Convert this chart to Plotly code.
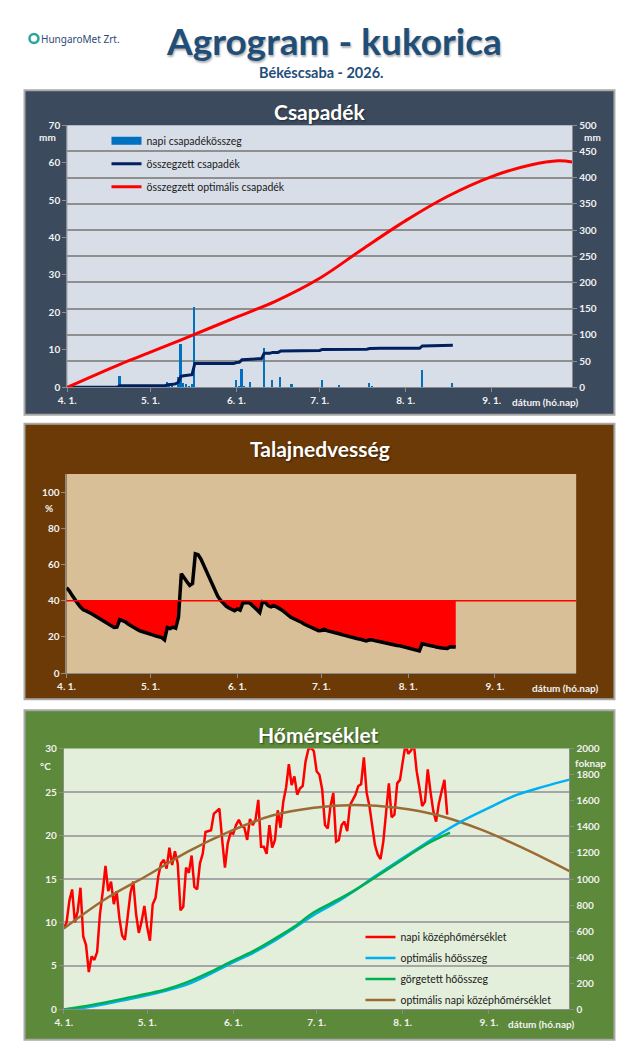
import numpy as np
import pandas as pd
import plotly.graph_objects as go

W, H = 640, 1059
# the photographed page comes out slightly shrunk and shifted; positions below are taken
# from the reference picture and mapped back into figure pixels
SHRINK, SHIFT_X, SHIFT_Y = 0.986, 16.5, 15
FONT = "Lato"
SEASON_START = "2026-04-01"
SEASON_END = "2026-09-30"

MONTH_TICKS = ["2026-04-01", "2026-05-01", "2026-06-01", "2026-07-01", "2026-08-01", "2026-09-01"]
MONTH_LABELS = ["4. 1.", "5. 1.", "6. 1.", "7. 1.", "8. 1.", "9. 1."]

# --- csapadék (mm) ---
RAIN_DATES = ["2026-04-20", "2026-05-07", "2026-05-08", "2026-05-09", "2026-05-11", "2026-05-12",
              "2026-05-13", "2026-05-14", "2026-05-15", "2026-05-16", "2026-05-17", "2026-06-01",
              "2026-06-02", "2026-06-03", "2026-06-04", "2026-06-06", "2026-06-11", "2026-06-14",
              "2026-06-17", "2026-06-21", "2026-07-02", "2026-07-08", "2026-07-19", "2026-07-20",
              "2026-08-07", "2026-08-18"]
RAIN_MM = [2.9, 1.5, 1.2, 1.0, 2.7, 11.6,
           1.2, 0.8, 0.4, 0.8, 21.5, 1.8,
           0.4, 4.8, 0.4, 1.4, 10.4, 1.9,
           2.7, 0.9, 2.0, 0.6, 1.1, 0.4,
           4.6, 1.2]
RAIN_LAST_DAY = "2026-08-18"

OPT_RAIN_DATES = ["2026-04-01", "2026-04-20", "2026-05-01", "2026-05-16", "2026-06-01", "2026-06-15",
                  "2026-07-01", "2026-07-16", "2026-08-01", "2026-08-16", "2026-09-01", "2026-09-15",
                  "2026-09-25", "2026-09-30"]
OPT_RAIN_SUM = [0, 44, 67, 99, 134, 164, 208, 262, 318, 364, 402, 424, 432, 430]

# --- talajnedvesség (%), napi értékek ápr. 1-től ---
SOIL_MOISTURE = [
    47.2, 45.5, 43.0, 40.5, 38.5, 36.5, 35.0, 34.4, 33.8, 32.8,
    31.8, 30.9, 30.0, 29.0, 28.1, 27.1, 26.0, 25.2, 25.4, 29.5,
    29.0, 28.4, 27.2, 26.2, 25.2, 24.2, 23.5, 23.0, 22.6, 22.0,
    21.5, 21.0, 20.5, 20.0, 19.6, 18.4, 25.2, 24.6, 25.4, 24.8,
    31.0, 55.0, 52.5, 50.5, 48.5, 49.5, 66.0, 65.5, 63.0, 59.5,
    56.0, 52.5, 49.0, 45.5, 42.5, 40.3, 38.5, 37.0, 36.0, 35.0,
    34.5, 35.5, 34.8, 38.8, 39.0, 39.0, 38.0, 36.8, 35.0, 33.5,
    39.5, 39.0, 37.3, 36.6, 37.3, 36.6, 35.8, 34.8, 33.5, 32.0,
    31.0, 30.2, 29.5, 29.0, 28.0, 27.0, 26.2, 25.5, 24.8, 24.0,
    23.5, 23.6, 24.3, 23.5, 23.2, 22.7, 22.2, 21.8, 21.5, 21.0,
    20.5, 20.0, 19.6, 19.2, 19.0, 18.7, 18.2, 17.8, 18.3, 18.4,
    18.0, 17.6, 17.4, 17.2, 16.8, 16.3, 16.0, 15.6, 15.3, 15.1,
    14.7, 14.3, 13.9, 13.4, 12.9, 12.5, 12.3, 16.2, 16.0, 15.6,
    15.2, 14.9, 14.4, 14.0, 13.9, 13.8, 13.6, 14.6, 14.7, 14.5,
]
SOIL_OPTIMUM = 40

# --- hőmérséklet (°C), napi értékek ápr. 1-től ---
TEMP_MEAN = [
    9.3, 10.0, 12.5, 13.8, 10.0, 11.3, 14.0, 8.4, 7.4, 4.3,
    6.1, 5.7, 6.6, 10.9, 13.5, 16.5, 13.6, 14.7, 12.1, 13.6,
    10.5, 8.5, 8.0, 10.5, 13.4, 14.7, 11.0, 8.8, 10.1, 11.9,
    9.5, 7.9, 12.1, 12.8, 15.3, 16.8, 17.2, 16.2, 18.6, 16.6,
    18.2, 16.8, 11.4, 11.8, 16.3, 15.7, 17.7, 14.1, 13.8, 16.8,
    17.9, 20.4, 20.5, 20.6, 22.5, 22.8, 23.1, 19.5, 16.3, 19.1,
    20.3, 20.2, 21.2, 21.8, 21.1, 20.9, 19.5, 21.9, 21.2, 21.8,
    24.1, 18.7, 18.7, 17.9, 21.2, 18.6, 19.5, 22.9, 20.9, 23.9,
    25.5, 28.2, 25.8, 26.8, 24.7, 25.4, 25.7, 28.5, 29.9, 30.1,
    29.7, 27.4, 27.0, 25.3, 21.2, 20.8, 23.4, 24.9, 19.3, 19.5,
    21.2, 21.6, 20.5, 23.5, 24.2, 24.7, 25.7, 25.9, 29.0, 24.9,
    23.4, 21.4, 18.9, 17.8, 17.3, 19.3, 23.0, 26.0, 22.1, 22.4,
    26.0, 26.4, 28.5, 30.5, 29.4, 29.8, 30.5, 27.4, 25.5, 23.4,
    23.9, 27.6, 25.0, 22.8, 21.6, 23.7, 25.1, 26.4, 22.4,
]

OPT_TEMP_DATES = ["2026-04-01", "2026-04-16", "2026-05-01", "2026-05-16", "2026-05-31", "2026-06-15",
                  "2026-06-30", "2026-07-15", "2026-07-30", "2026-08-14", "2026-08-29", "2026-09-13",
                  "2026-09-30"]
OPT_TEMP = [9.3, 12.7, 15.4, 18.2, 20.5, 22.3, 23.2, 23.5, 23.2, 22.3, 20.7, 18.6, 15.9]

OPT_HEAT_DATES = ["2026-04-01", "2026-04-08", "2026-04-15", "2026-04-23", "2026-05-01", "2026-05-08",
                  "2026-05-15", "2026-05-23", "2026-05-31", "2026-06-08", "2026-06-15", "2026-06-23",
                  "2026-06-30", "2026-07-09", "2026-07-14", "2026-07-22", "2026-08-01", "2026-08-09",
                  "2026-08-16", "2026-08-22", "2026-09-01", "2026-09-11", "2026-09-21", "2026-09-30"]
OPT_HEAT = [0, 12, 38, 72, 108, 145, 188, 265, 352, 432, 515, 625,
            725, 832, 900, 1020, 1160, 1270, 1365, 1440, 1545, 1645, 1710, 1762]

HEAT_DATES = ["2026-04-01", "2026-04-08", "2026-04-15", "2026-04-23", "2026-05-01", "2026-05-08",
              "2026-05-15", "2026-05-23", "2026-05-31", "2026-06-08", "2026-06-15", "2026-06-23",
              "2026-06-30", "2026-07-09", "2026-07-14", "2026-07-22", "2026-08-01", "2026-08-09",
              "2026-08-18"]
HEAT_SUM = [0, 22, 50, 85, 120, 155, 205, 280, 365, 445, 530, 635,
            745, 845, 905, 1012, 1150, 1260, 1355]


def px(x):
    return (x - SHIFT_X) / SHRINK / W


def py(y):
    return 1 - (y - SHIFT_Y) / SHRINK / H


# daily precipitation series and its running total
rain_days = pd.date_range(SEASON_START, RAIN_LAST_DAY, freq="D")
rain_daily = pd.Series(0.0, index=rain_days)
rain_daily[pd.to_datetime(RAIN_DATES)] = RAIN_MM
rain_cum = rain_daily.cumsum()

soil_dates = pd.date_range(SEASON_START, periods=len(SOIL_MOISTURE), freq="D")
soil = np.array(SOIL_MOISTURE)
temp_dates = pd.date_range(SEASON_START, periods=len(TEMP_MEAN), freq="D")

tick_font = dict(family=FONT, size=10, color="#F2F2F2", weight="bold")
axis_base = dict(showline=True, linecolor="#8C8C8C", linewidth=1, ticks="outside", ticklen=4,
                 tickcolor="#8C8C8C", tickfont=tick_font, showgrid=False, zeroline=False,
                 fixedrange=True)
x_base = dict(axis_base, type="date", range=[SEASON_START, SEASON_END],
              tickvals=MONTH_TICKS, ticktext=MONTH_LABELS)

fig = go.Figure()

# ---------- Csapadék ----------
fig.add_trace(go.Bar(x=pd.to_datetime(RAIN_DATES), y=RAIN_MM, name="napi csapadékösszeg",
                     marker=dict(color="#0070C0", line_width=0), width=0.6 * 86400000,
                     xaxis="x", yaxis="y", showlegend=False, legendgroup="a"))
# legend key drawn as a wide flat block, like the original
fig.add_trace(go.Scatter(x=[None], y=[None], name="napi csapadékösszeg", mode="lines",
                         line=dict(color="#0070C0", width=8), xaxis="x", yaxis="y",
                         legend="legend", legendgroup="a"))
fig.add_trace(go.Scatter(x=rain_cum.index, y=rain_cum.values, name="összegzett csapadék",
                         mode="lines", line=dict(color="#002060", width=3),
                         xaxis="x", yaxis="y2", legend="legend", legendgroup="b"))
fig.add_trace(go.Scatter(x=OPT_RAIN_DATES, y=OPT_RAIN_SUM, name="összegzett optimális csapadék",
                         mode="lines", line=dict(color="#FF0000", width=3, shape="spline"),
                         xaxis="x", yaxis="y2", legend="legend", legendgroup="c"))

# ---------- Talajnedvesség ----------
fig.add_trace(go.Scatter(x=soil_dates, y=np.full(len(soil), SOIL_OPTIMUM), mode="lines",
                         line=dict(width=0, color="#FF0000"), showlegend=False, hoverinfo="skip",
                         xaxis="x2", yaxis="y3"))
fig.add_trace(go.Scatter(x=soil_dates, y=np.minimum(soil, SOIL_OPTIMUM), mode="lines",
                         line=dict(width=0, color="#FF0000"), fill="tonexty", fillcolor="#FF0000",
                         showlegend=False, hoverinfo="skip", xaxis="x2", yaxis="y3"))
fig.add_trace(go.Scatter(x=soil_dates, y=soil, mode="lines", name="talajnedvesség",
                         line=dict(color="#000000", width=3.5), showlegend=False,
                         xaxis="x2", yaxis="y3"))

# ---------- Hőmérséklet ----------
fig.add_trace(go.Scatter(x=OPT_HEAT_DATES, y=OPT_HEAT, name="optimális hőösszeg", mode="lines",
                         line=dict(color="#00B0F0", width=2.5, shape="spline"),
                         xaxis="x3", yaxis="y5", legend="legend2", legendgroup="e", legendrank=2))
fig.add_trace(go.Scatter(x=HEAT_DATES, y=HEAT_SUM, name="görgetett hőösszeg", mode="lines",
                         line=dict(color="#00B050", width=2.5, shape="spline"),
                         xaxis="x3", yaxis="y5", legend="legend2", legendgroup="f", legendrank=3))
fig.add_trace(go.Scatter(x=temp_dates, y=TEMP_MEAN, name="napi középhőmérséklet", mode="lines",
                         line=dict(color="#FF0000", width=2.5),
                         xaxis="x3", yaxis="y4", legend="legend2", legendgroup="d", legendrank=1))
fig.add_trace(go.Scatter(x=OPT_TEMP_DATES, y=OPT_TEMP, name="optimális napi középhőmérséklet",
                         mode="lines", line=dict(color="#9C6B34", width=2.5, shape="spline"),
                         xaxis="x3", yaxis="y4", legend="legend2", legendgroup="g", legendrank=4))

# panel frames and plot backgrounds (reference pixel coordinates)
panels = [
    ((24, 90, 614, 414), "#3C4A5D", (66.7, 125, 571.7, 386.7), "#D8DEE8"),
    ((24, 423, 614, 698), "#6B3A07", (66, 473.3, 575.7, 672), "#D9BF97"),
    ((24, 709, 614, 1038), "#5C8A3A", (63.3, 747.3, 569, 1007.7), "#E3EFDB"),
]
shapes = []
for (x0, y0, x1, y1), bg, (a0, b0, a1, b1), pbg in panels:
    shapes.append(dict(type="rect", xref="paper", yref="paper", x0=px(x0), x1=px(x1),
                       y0=py(y1), y1=py(y0), fillcolor=bg, line=dict(color="#A9A9A9", width=2),
                       layer="below"))
    shapes.append(dict(type="rect", xref="paper", yref="paper", x0=px(a0), x1=px(a1),
                       y0=py(b1), y1=py(b0), fillcolor=pbg, line=dict(width=0), layer="below"))
shapes.append(dict(type="line", xref="x2 domain", yref="y3", x0=0, x1=1,
                   y0=SOIL_OPTIMUM, y1=SOIL_OPTIMUM, line=dict(color="#FF0000", width=1.5)))
# logo swirl
shapes.append(dict(type="circle", xref="paper", yref="paper", x0=px(29), x1=px(38),
                   y0=py(43), y1=py(34), line=dict(color="#2AA79B", width=2.5)))

p1, p2, p3 = [p[2] for p in panels]

fig.update_layout(
    width=W, height=H, margin=dict(l=0, r=0, t=0, b=0), autosize=False,
    paper_bgcolor="white", plot_bgcolor="rgba(0,0,0,0)",
    shapes=shapes, bargap=0,
    xaxis=dict(x_base, domain=[px(p1[0]), px(p1[2])], anchor="y"),
    yaxis=dict(axis_base, domain=[py(p1[3]), py(p1[1])], range=[0, 70], tickvals=list(range(0, 71, 10)),
               anchor="x"),
    yaxis2=dict(axis_base, range=[0, 500], tickvals=list(range(0, 501, 50)), overlaying="y",
                side="right", anchor="x", showgrid=True, gridcolor="#8F8F8F", gridwidth=1.5),
    xaxis2=dict(x_base, domain=[px(p2[0]), px(p2[2])], anchor="y3"),
    yaxis3=dict(axis_base, domain=[py(p2[3]), py(p2[1])], range=[0, 110],
                tickvals=list(range(0, 101, 20)), anchor="x2"),
    xaxis3=dict(x_base, domain=[px(p3[0]), px(p3[2])], anchor="y4"),
    yaxis4=dict(axis_base, domain=[py(p3[3]), py(p3[1])], range=[0, 30], tickvals=list(range(0, 31, 5)),
                anchor="x3", showgrid=True, gridcolor="#A6A6A6", gridwidth=1.5),
    yaxis5=dict(axis_base, range=[0, 2000], tickvals=list(range(0, 2001, 200)), overlaying="y4",
                side="right", anchor="x3"),
    legend=dict(x=px(106), y=py(126), xanchor="left", yanchor="top", bgcolor="rgba(0,0,0,0)",
                font=dict(family=FONT, size=10.5, color="#1A1A1A"), tracegroupgap=4, itemwidth=30),
    legend2=dict(x=px(360), y=py(921), xanchor="left", yanchor="top", bgcolor="rgba(0,0,0,0)",
                 font=dict(family=FONT, size=10.5, color="#1A1A1A"), tracegroupgap=2, itemwidth=30),
)

white = "#FFFFFF"
shadow = "1px 1px 2px rgba(0,0,0,0.45)"
notes = [
    ("Agrogram - kukorica", 334, 40, 37, "#1F4E79", "1px 2px 2px rgba(0,0,0,0.3)"),
    ("Békéscsaba - 2026.", 321, 72, 14.5, "#1F4E79", "none"),
    ("Csapadék", 319.5, 111, 21, white, shadow),
    ("Talajnedvesség", 320, 448, 21, white, shadow),
    ("Hőmérséklet", 318, 733, 21, white, shadow),
]
for text, x, y, size, color, sh in notes:
    fig.add_annotation(text=text, x=px(x), y=py(y), xref="paper", yref="paper", showarrow=False,
                       xanchor="center", yanchor="middle",
                       font=dict(family=FONT, size=size, color=color, weight="bold", shadow=sh))

small = [
    ("mm", 47, 137), ("mm", 592, 137), ("%", 49, 507), ("°C", 45, 765), ("foknap", 590, 762),
    ("dátum (hó.nap)", 545, 401), ("dátum (hó.nap)", 565, 687), ("dátum (hó.nap)", 541, 1022),
]
for text, x, y in small:
    fig.add_annotation(text=text, x=px(x), y=py(y), xref="paper", yref="paper", showarrow=False,
                       xanchor="center", yanchor="middle",
                       font=dict(family=FONT, size=10, color="#F2F2F2", weight="bold"))

fig.add_annotation(text="HungaroMet Zrt.", x=px(39), y=py(38.5), xref="paper", yref="paper",
                   xanchor="left", yanchor="middle", showarrow=False,
                   font=dict(family="Noto Sans", size=10, color="#2E4A7A"))

fig.write_html("out.html")
